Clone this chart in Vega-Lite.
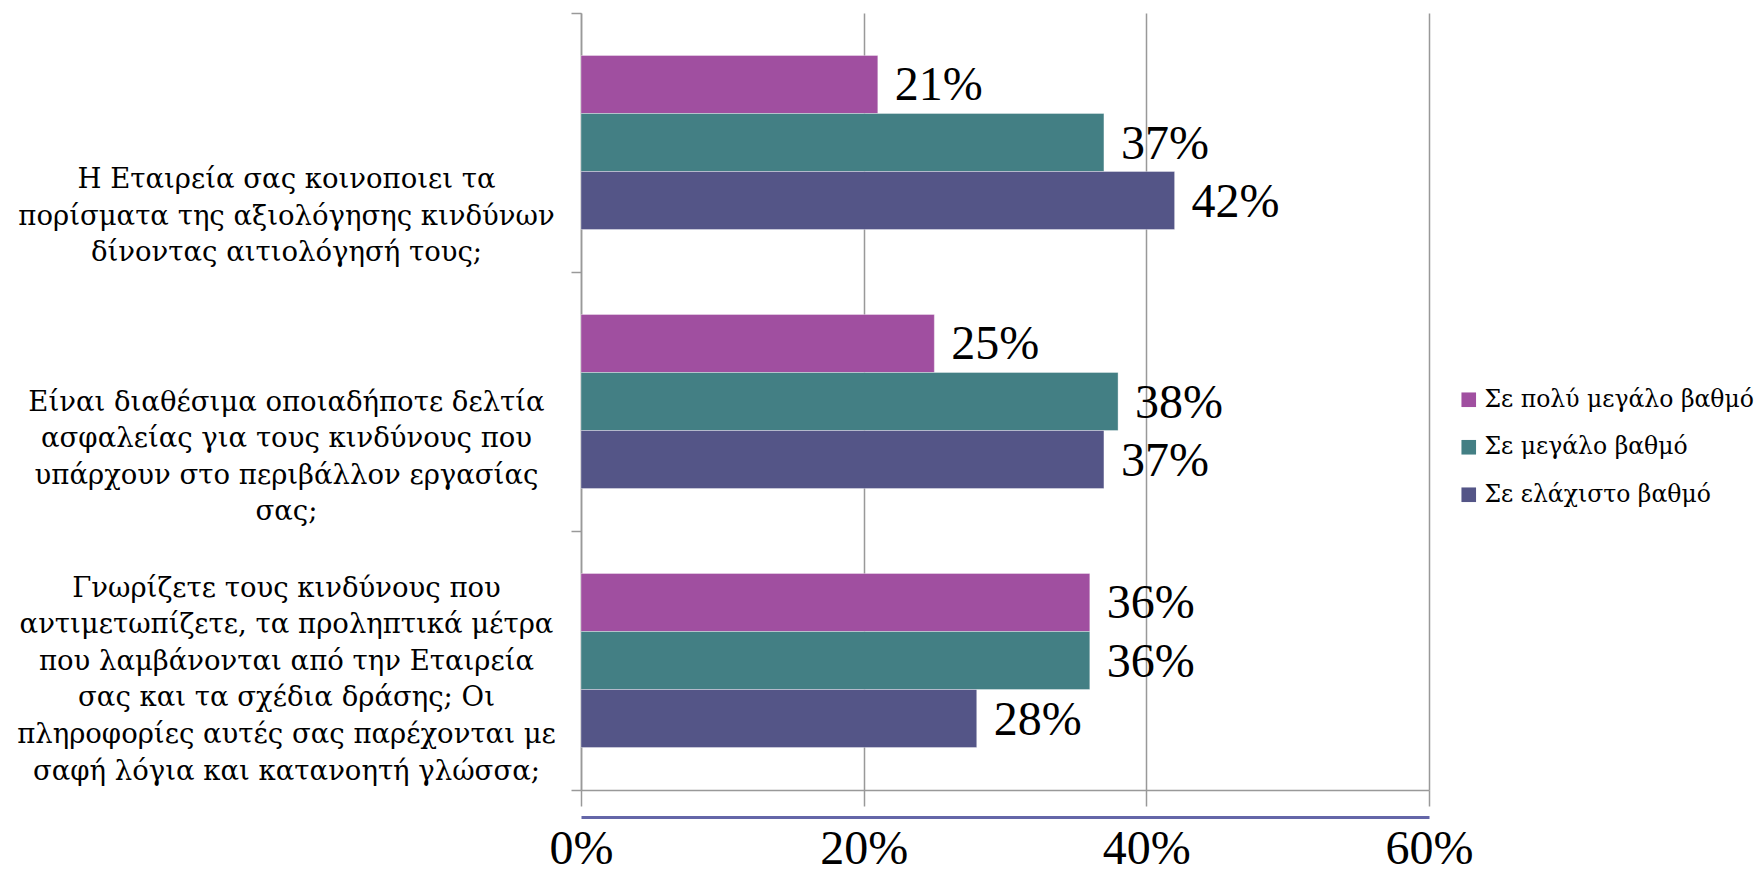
{
  "$schema": "https://vega.github.io/schema/vega-lite/v6.json",
  "autosize": "none",
  "padding": {"left": 581, "top": 13, "right": 333, "bottom": 83},
  "width": 848,
  "height": 777,
  "background": "white",
  "config": {
    "view": {"stroke": null},
    "font": "Liberation Serif"
  },
  "data": {
    "values": [
      {"q": "Η Εταιρεία σας κοινοποιει  τα|πορίσματα της αξιολόγησης κινδύνων|δίνοντας  αιτιολόγησή τους;", "series": "Σε πολύ μεγάλο βαθμό", "value": 0.21},
      {"q": "Η Εταιρεία σας κοινοποιει  τα|πορίσματα της αξιολόγησης κινδύνων|δίνοντας  αιτιολόγησή τους;", "series": "Σε μεγάλο βαθμό", "value": 0.37},
      {"q": "Η Εταιρεία σας κοινοποιει  τα|πορίσματα της αξιολόγησης κινδύνων|δίνοντας  αιτιολόγησή τους;", "series": "Σε ελάχιστο βαθμό", "value": 0.42},
      {"q": "Είναι διαθέσιμα οποιαδήποτε δελτία|ασφαλείας για τους κινδύνους που|υπάρχουν στο περιβάλλον εργασίας|σας;", "series": "Σε πολύ μεγάλο βαθμό", "value": 0.25},
      {"q": "Είναι διαθέσιμα οποιαδήποτε δελτία|ασφαλείας για τους κινδύνους που|υπάρχουν στο περιβάλλον εργασίας|σας;", "series": "Σε μεγάλο βαθμό", "value": 0.38},
      {"q": "Είναι διαθέσιμα οποιαδήποτε δελτία|ασφαλείας για τους κινδύνους που|υπάρχουν στο περιβάλλον εργασίας|σας;", "series": "Σε ελάχιστο βαθμό", "value": 0.37},
      {"q": "Γνωρίζετε τους κινδύνους που|αντιμετωπίζετε, τα προληπτικά μέτρα|που λαμβάνονται από την Εταιρεία|σας  και τα σχέδια δράσης; Οι|πληροφορίες αυτές σας παρέχονται με|σαφή λόγια και κατανοητή γλώσσα;", "series": "Σε πολύ μεγάλο βαθμό", "value": 0.36},
      {"q": "Γνωρίζετε τους κινδύνους που|αντιμετωπίζετε, τα προληπτικά μέτρα|που λαμβάνονται από την Εταιρεία|σας  και τα σχέδια δράσης; Οι|πληροφορίες αυτές σας παρέχονται με|σαφή λόγια και κατανοητή γλώσσα;", "series": "Σε μεγάλο βαθμό", "value": 0.36},
      {"q": "Γνωρίζετε τους κινδύνους που|αντιμετωπίζετε, τα προληπτικά μέτρα|που λαμβάνονται από την Εταιρεία|σας  και τα σχέδια δράσης; Οι|πληροφορίες αυτές σας παρέχονται με|σαφή λόγια και κατανοητή γλώσσα;", "series": "Σε ελάχιστο βαθμό", "value": 0.28}
    ]
  },
  "encoding": {
    "y": {
      "field": "q",
      "type": "nominal",
      "sort": null,
      "scale": {"paddingInner": 0, "paddingOuter": 0},
      "axis": {
        "title": null,
        "tickBand": "extent",
        "tickSize": 10,
        "tickColor": "#999999",
        "domainColor": "#999999",
        "domainWidth": 1.5,
        "tickWidth": 1.5,
        "labelExpr": "split(datum.label, '|')",
        "labelAlign": "center",
        "labelBaseline": "alphabetic",
        "labelPadding": 285,
        "labelOffset": {"expr": "118.5 - (length(split(datum.value, '|')) - 1) * 36.6"},
        "labelFontSize": 27.5,
        "labelLineHeight": 36.6,
        "labelColor": "#000000",
        "labelFont": "DejaVu Serif",
        "labelLimit": 0
      }
    },
    "yOffset": {
      "field": "series",
      "type": "nominal",
      "sort": ["Σε πολύ μεγάλο βαθμό", "Σε μεγάλο βαθμό", "Σε ελάχιστο βαθμό"],
      "scale": {"paddingInner": 0, "paddingOuter": 0.732}
    }
  },
  "layer": [
    {
      "mark": {"type": "bar", "stroke": "#ffffff", "strokeOpacity": 0.35, "strokeWidth": 1},
      "encoding": {
        "x": {
          "field": "value",
          "type": "quantitative",
          "scale": {"domain": [0, 0.6], "nice": false},
          "axis": {
            "title": null,
            "orient": "bottom",
            "values": [0, 0.2, 0.4, 0.6],
            "labels": false,
            "grid": true,
            "gridColor": "#999999",
            "gridWidth": 1.5,
            "domainColor": "#999999",
            "domainWidth": 1.5,
            "tickColor": "#999999",
            "tickWidth": 1.5,
            "tickSize": 16
          }
        },
        "color": {
          "field": "series",
          "type": "nominal",
          "scale": {
            "domain": ["Σε πολύ μεγάλο βαθμό", "Σε μεγάλο βαθμό", "Σε ελάχιστο βαθμό"],
            "range": ["#A04FA0", "#437F84", "#545587"]
          },
          "legend": {
            "title": null,
            "orient": "none",
            "legendX": 876,
            "legendY": 375,
            "padding": 0,
            "symbolType": "square",
            "symbolSize": 213,
            "symbolStrokeWidth": 0,
            "labelFont": "DejaVu Serif",
            "labelFontSize": 23.5,
            "labelColor": "#000000",
            "labelOffset": 4,
            "labelLimit": 0,
            "rowPadding": 22.5
          }
        }
      }
    },
    {
      "mark": {"type": "text", "align": "left", "baseline": "middle", "dx": 17, "dy": 2, "fontSize": 48, "font": "Liberation Serif", "color": "#000000"},
      "encoding": {
        "x": {
          "field": "value",
          "type": "quantitative",
          "scale": {"domain": [0, 0.6], "nice": false},
          "axis": {
            "title": null,
            "orient": "bottom",
            "offset": 27,
            "values": [0, 0.2, 0.4, 0.6],
            "format": ".0%",
            "ticks": false,
            "grid": false,
            "domainColor": "#6466a8",
            "domainWidth": 3,
            "labelFontSize": 48,
            "labelFont": "Liberation Serif",
            "labelColor": "#000000",
            "labelPadding": 8,
            "labelFlush": false,
            "labelOverlap": false
          }
        },
        "text": {"field": "value", "type": "quantitative", "format": ".0%"}
      }
    }
  ],
  "resolve": {"axis": {"x": "independent"}}
}
